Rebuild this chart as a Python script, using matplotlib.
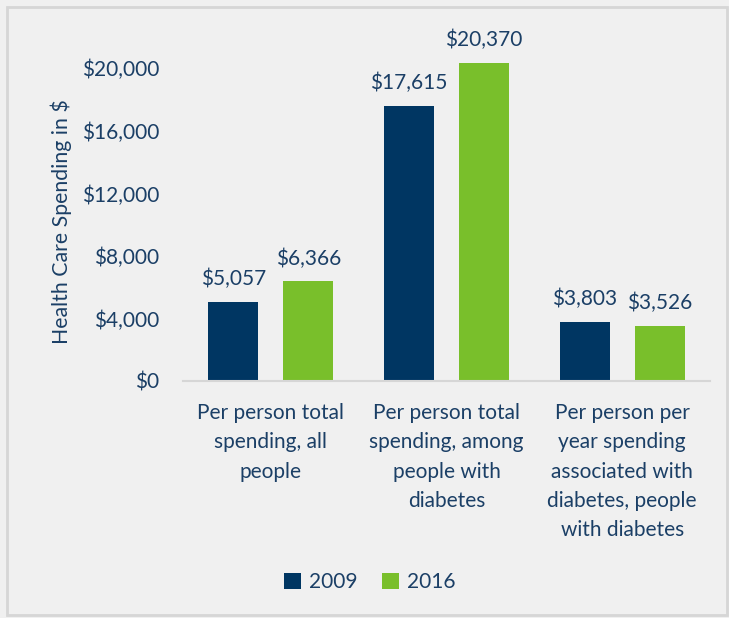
import numpy as np
import matplotlib.pyplot as plt
from matplotlib.patches import Rectangle

categories = ["Per person total\nspending, all\npeople",
              "Per person total\nspending, among\npeople with\ndiabetes",
              "Per person per\nyear spending\nassociated with\ndiabetes, people\nwith diabetes"]
years = ["2009", "2016"]
spend_2009 = [5057, 17615, 3803]
spend_2016 = [6366, 20370, 3526]
yticks = [0, 4000, 8000, 12000, 16000, 20000]

navy = "#003662"
green = "#79BF2B"
txt = "#1B3F66"
bg = "#F0F0F0"

plt.rcParams['font.family'] = ['Lato', 'DejaVu Sans']

fig = plt.figure(figsize=(7.29, 6.18), dpi=100, facecolor=bg)
fig.patches.append(Rectangle((0.009, 0.005), 0.988, 0.983, transform=fig.transFigure,
                             fill=False, edgecolor="#D6D6D6", linewidth=2))
ax = fig.add_axes([0.251, 0.3835, 0.723, 0.5565])
ax.set_facecolor(bg)

x = np.arange(len(categories))
w = 0.284
off = 0.213
b1 = ax.bar(x - off, spend_2009, w, color=navy, label=years[0])
b2 = ax.bar(x + off, spend_2016, w, color=green, label=years[1])

for bars, vals in [(b1, spend_2009), (b2, spend_2016)]:
    for b, v in zip(bars, vals):
        ax.annotate("${:,}".format(v), (b.get_x() + b.get_width() / 2, v),
                    xytext=(0, 9), textcoords="offset points",
                    ha="center", va="bottom", fontsize=15, color=txt)

ax.set_xlim(-0.5, 2.5)
ax.set_ylim(0, 22000)
ax.set_yticks(yticks)
ax.set_yticklabels(["${:,}".format(t) for t in yticks], fontsize=15, color=txt)
ax.set_xticks(x)
ax.set_xticklabels(categories, fontsize=15, color=txt, linespacing=1.58, va="top")
ax.tick_params(length=0)
ax.tick_params(axis="y", pad=17)
ax.tick_params(axis="x", pad=16)
for s in ["top", "right", "left"]:
    ax.spines[s].set_visible(False)
ax.spines["bottom"].set_color("#D6D6D6")
ax.spines["bottom"].set_linewidth(1.5)

ax.set_ylabel("Health Care Spending in $", fontsize=15.3, color=txt)
ax.yaxis.set_label_coords(-0.21, 0.462)

fig.legend(loc="center", bbox_to_anchor=(370 / 729, 1 - 582 / 618), ncol=2,
           frameon=False, fontsize=15, labelcolor=txt, handlelength=0.8,
           handleheight=0.8, handletextpad=0.4, columnspacing=1.2)

fig.savefig("out.png", dpi=100, facecolor=bg)
